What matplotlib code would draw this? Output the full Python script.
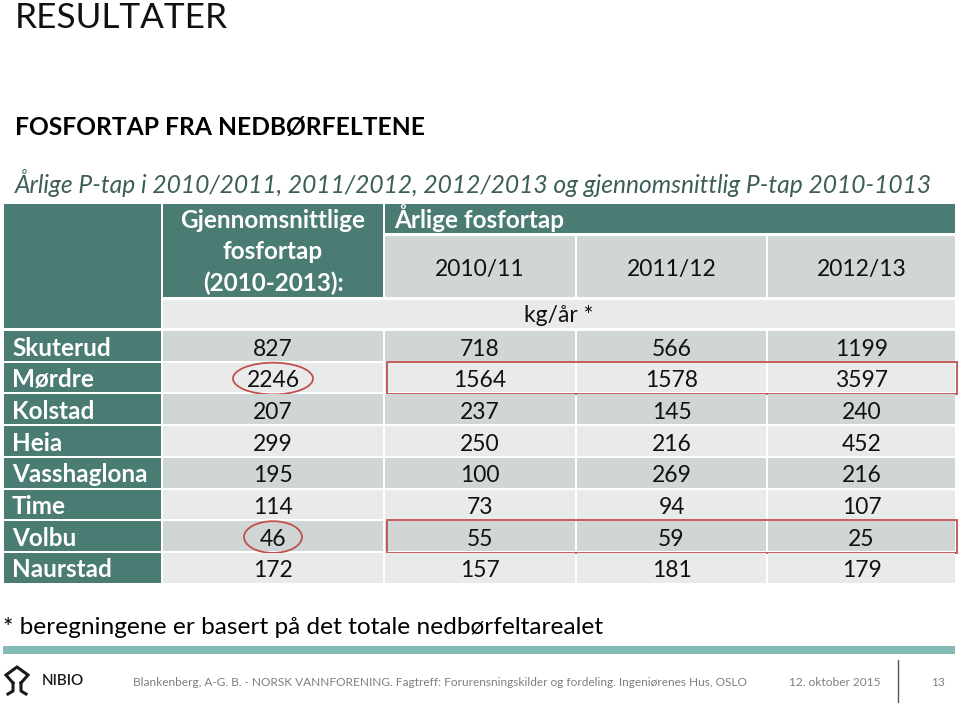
import matplotlib
matplotlib.use("Agg")
import matplotlib.pyplot as plt
from matplotlib.patches import Rectangle, Ellipse

# ---- data ----
stations = ["Skuterud", "Mørdre", "Kolstad", "Heia", "Vasshaglona", "Time", "Volbu", "Naurstad"]
avg_2010_2013 = [827, 2246, 207, 299, 195, 114, 46, 172]
loss_2010_11 = [718, 1564, 237, 250, 100, 73, 55, 157]
loss_2011_12 = [566, 1578, 145, 216, 269, 94, 59, 181]
loss_2012_13 = [1199, 3597, 240, 452, 216, 107, 25, 179]
season_labels = ["2010/11", "2011/12", "2012/13"]
highlight_rows = ["Mørdre", "Volbu"]

FONT = "Lato"
TEAL = "#4a7c74"
DARK = "#d0d6d5"
LIGHT = "#e9ebeb"
RED = "#c0504d"
TXT = "#111111"
NUM_FS = 16.5
BOLD_FS = 17.5

fig = plt.figure(figsize=(9.6, 7.03), dpi=100)
ax = fig.add_axes([0, 0, 1, 1])
ax.set_xlim(0, 960)
ax.set_ylim(703, 0)
ax.axis("off")

# column layout (pixel edges)
col_edges = [(4, 161), (163, 383), (385, 575), (577, 766), (768, 955)]
row_top = 331
row_h = 31.7
gap = 2.0

def cell(x0, x1, y0, y1, color):
    ax.add_patch(Rectangle((x0, y0), x1 - x0, y1 - y0, facecolor=color, edgecolor="none"))

# titles
ax.text(15, 28, "RESULTATER", fontsize=25.3, family=FONT, fontweight="normal", va="baseline", ha="left", color="#111111")
ax.text(15, 135, "FOSFORTAP FRA NEDBØRFELTENE", fontsize=17.7, family=FONT, fontweight="bold", va="baseline", ha="left", color="black")
ax.text(15, 193, "Årlige P-tap i 2010/2011, 2011/2012, 2012/2013 og gjennomsnittlig P-tap 2010-1013",
        fontsize=17.7, family=FONT, style="italic", va="baseline", ha="left", color="#3d5e58")

# header cells
cell(4, 161, 204, 328, TEAL)
cell(163, 383, 204, 297, TEAL)
cell(385, 955, 204, 233, TEAL)
for (x0, x1) in col_edges[2:]:
    cell(x0, x1, 236, 297, DARK)
cell(163, 955, 299.5, 328, LIGHT)

hdr_kw = dict(fontsize=BOLD_FS, family=FONT, fontweight="bold", color="white", va="baseline")
ax.text(273, 228, "Gjennomsnittlige", ha="center", **hdr_kw)
ax.text(273, 259, "fosfortap", ha="center", **hdr_kw)
ax.text(273, 291, "(2010-2013):", ha="center", **hdr_kw)
ax.text(394, 228, "Årlige fosfortap", ha="left", **hdr_kw)
for (x0, x1), lab in zip(col_edges[2:], season_labels):
    ax.text((x0 + x1) / 2, 276, lab, ha="center", va="baseline", fontsize=NUM_FS, family=FONT, color=TXT)
ax.text((163 + 955) / 2, 322, "kg/år *", ha="center", va="baseline", fontsize=NUM_FS, family=FONT, color=TXT)

# data rows
for i, name in enumerate(stations):
    y0 = row_top + i * row_h
    y1 = y0 + row_h - gap
    yc = (y0 + y1) / 2
    yb = y0 + 24.5
    fill = DARK if i % 2 == 0 else LIGHT
    cell(col_edges[0][0], col_edges[0][1], y0, y1, TEAL)
    ax.text(12, yb, name, ha="left", va="baseline", fontsize=BOLD_FS, family=FONT, fontweight="bold", color="white")
    vals = [avg_2010_2013[i], loss_2010_11[i], loss_2011_12[i], loss_2012_13[i]]
    for (x0, x1), v in zip(col_edges[1:], vals):
        cell(x0, x1, y0, y1, fill)
        ax.text((x0 + x1) / 2, yb, str(v), ha="center", va="baseline", fontsize=NUM_FS, family=FONT, color=TXT)
    if name in highlight_rows:
        ax.add_patch(Rectangle((387, y0 - 1), 957 - 387, row_h + 1, facecolor="none", edgecolor=RED, lw=1.3))
        w = 80 if avg_2010_2013[i] >= 1000 else 58
        ax.add_patch(Ellipse((273, yc + 1), w, row_h, facecolor="none", edgecolor=RED, lw=1.3))

# footnote
ax.text(3, 634, "* beregningene er basert på det totale nedbørfeltarealet", ha="left", va="baseline",
        fontsize=17.6, family=FONT, color="black")

# footer bar
ax.add_patch(Rectangle((3, 646), 952, 8, facecolor="#83bcb5", edgecolor="none"))

# NIBIO logo (simple line icon)
ax.plot([13, 6, 17, 28, 21], [683, 675, 667, 675, 683], color="#1a1a1a", lw=2.2, solid_joinstyle="miter")
ax.plot([13, 13, 8], [683, 691, 694], color="#1a1a1a", lw=2.2)
ax.plot([21, 21, 26], [683, 691, 694], color="#1a1a1a", lw=2.2)
ax.text(42, 681, "NIBIO", ha="left", va="center", fontsize=11, family=FONT, fontweight="semibold", color="#1a1a1a")

ft_kw = dict(fontsize=8.6, family=FONT, color="#7f7f7f", va="center")
ax.text(133, 682, "Blankenberg, A-G. B. - NORSK VANNFORENING. Fagtreff: Forurensningskilder og fordeling. Ingeniørenes Hus, OSLO",
        ha="left", **ft_kw)
ax.text(835, 682, "12. oktober 2015", ha="center", **ft_kw)
ax.plot([898, 898], [660, 702], color="#555555", lw=1)
ax.text(938, 682, "13", ha="center", **ft_kw)

fig.savefig("out.png", dpi=100)
